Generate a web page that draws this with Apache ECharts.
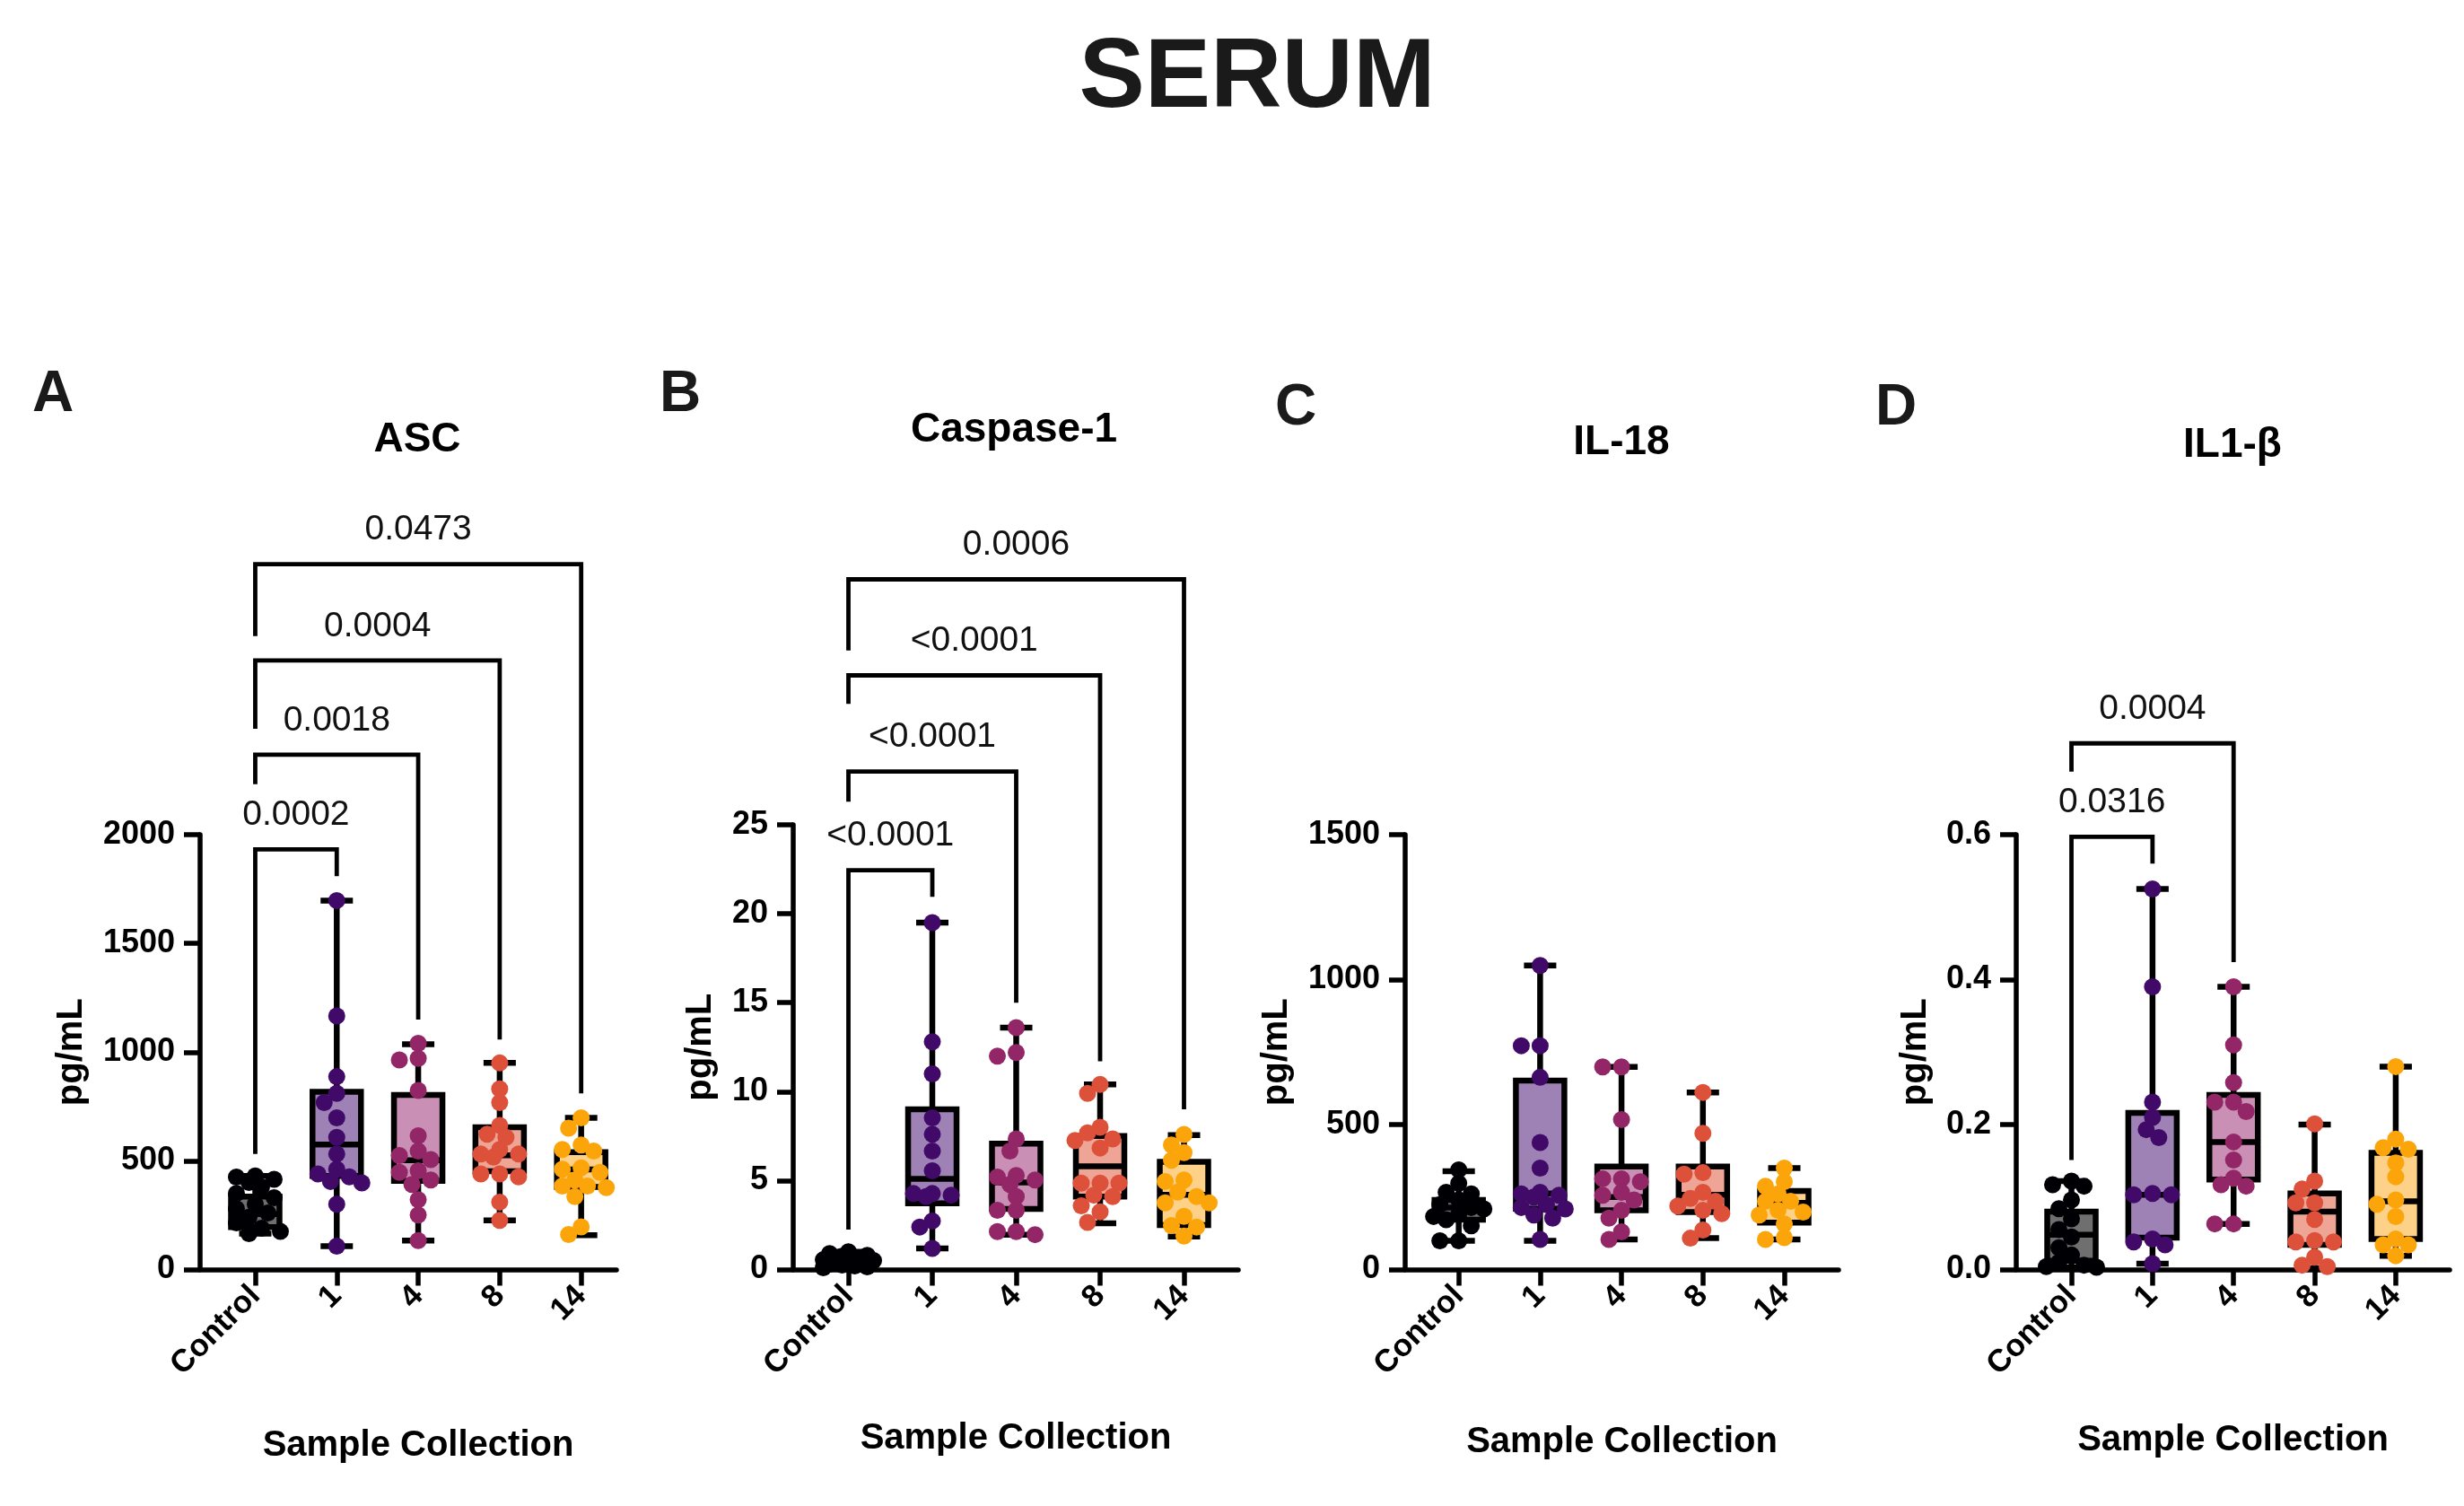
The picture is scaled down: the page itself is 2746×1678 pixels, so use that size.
<!DOCTYPE html>
<html>
<head>
<meta charset="utf-8">
<script src="https://cdn.jsdelivr.net/npm/echarts@6/dist/echarts.min.js"></script>
<style>
html,body{margin:0;padding:0;background:#fff;}
#chart{width:2746px;height:1678px;}
</style>
</head>
<body>
<div id="chart"></div>
<script>
// ---------------- DATA ----------------
const categories = ['Control', '1', '4', '8', '14'];

// ASC (pg/mL): box = [min, q1, median, q3, max]
const ascTicks = [0, 500, 1000, 1500, 2000];
const ascBox = [
  [165, 195, 255, 335, 430],
  [107, 430, 575, 817, 1697],
  [133, 408, 503, 803, 1036],
  [226, 452, 525, 654, 950],
  [158, 380, 460, 540, 698]
];
const ascPts = [
  [430, 425, 415, 400, 380, 350, 330, 300, 280, 260, 240, 215, 190, 175, 165],
  [1697, 1166, 887, 810, 768, 698, 608, 531, 461, 440, 426, 405, 398, 300, 107],
  [1040, 971, 964, 824, 615, 545, 524, 506, 454, 447, 412, 391, 321, 251, 133],
  [950, 831, 768, 663, 622, 608, 552, 531, 531, 517, 440, 440, 426, 310, 226],
  [698, 650, 573, 552, 545, 468, 461, 447, 412, 384, 384, 377, 335, 196, 161]
];
// significance: [label, target group, bracket level, left leg end, right leg end]
const ascSig = [
  ['0.0002', 1, 1932, 531, 1809],
  ['0.0018', 2, 2368, 2232, 1150],
  ['0.0004', 3, 2801, 2487, 1058],
  ['0.0473', 4, 3244, 2913, 810]
];

// Caspase-1
const casTicks = [0, 5, 10, 15, 20, 25];
const casBox = [
  [0.1, 0.2, 0.35, 0.6, 1.0],
  [1.19, 3.72, 5.09, 9.0, 19.5],
  [1.96, 3.41, 4.9, 7.08, 13.6],
  [2.6, 4.1, 5.8, 7.5, 10.4],
  [1.85, 2.5, 4.2, 6.06, 7.55]
];
const casPts = [
  [1.0, 0.9, 0.8, 0.75, 0.6, 0.55, 0.5, 0.45, 0.4, 0.35, 0.3, 0.25, 0.2, 0.15, 0.1],
  [19.5, 12.8, 11.0, 8.53, 7.6, 6.66, 5.55, 4.27, 4.27, 4.18, 4.1, 2.73, 2.39, 1.19],
  [13.6, 12.2, 12.0, 7.34, 6.66, 5.29, 5.2, 5.03, 4.78, 4.1, 3.33, 3.33, 2.13, 2.13, 1.96],
  [10.4, 9.9, 8.0, 7.68, 7.34, 7.25, 6.83, 4.86, 4.86, 4.86, 4.18, 4.1, 3.58, 3.24, 2.65],
  [7.59, 7.0, 6.57, 6.14, 5.03, 4.95, 4.35, 4.1, 3.75, 3.75, 2.99, 2.47, 2.39, 1.88]
];
const casSig = [
  ['<0.0001', 1, 22.45, 2.25, 20.95],
  ['<0.0001', 2, 28.0, 26.3, 15.0],
  ['<0.0001', 3, 33.4, 31.8, 11.7],
  ['0.0006', 4, 38.8, 34.8, 9.0]
];

// IL-18
const il18Ticks = [0, 500, 1000, 1500];
const il18Box = [
  [99, 172, 214, 240, 339],
  [99, 210, 262, 652, 1049],
  [104, 204, 250, 355, 699],
  [108, 198, 258, 355, 611],
  [104, 162, 230, 271, 350]
];
const il18Pts = [
  [344, 297, 266, 261, 240, 224, 214, 209, 190, 183, 172, 151, 99, 99],
  [1049, 772, 772, 663, 438, 350, 266, 261, 256, 250, 224, 214, 209, 188, 177, 104],
  [699, 699, 517, 313, 313, 303, 266, 256, 240, 204, 177, 130, 104],
  [611, 470, 334, 329, 266, 245, 235, 219, 204, 193, 136, 108],
  [350, 303, 287, 261, 235, 235, 204, 198, 188, 157, 110, 104]
];
const il18Sig = [];

// IL1-beta
const il1bTicks = [0, 0.2, 0.4, 0.6];
const il1bBox = [
  [0.003, 0.012, 0.048, 0.08, 0.122],
  [0.008, 0.044, 0.103, 0.216, 0.525],
  [0.063, 0.124, 0.176, 0.241, 0.39],
  [0.002, 0.034, 0.08, 0.105, 0.2],
  [0.019, 0.042, 0.094, 0.161, 0.28]
];
const il1bPts = [
  [0.122, 0.117, 0.115, 0.096, 0.084, 0.07, 0.055, 0.045, 0.03, 0.02, 0.01, 0.006, 0.004, 0.003],
  [0.525, 0.39, 0.231, 0.21, 0.193, 0.182, 0.105, 0.103, 0.103, 0.042, 0.038, 0.034, 0.008],
  [0.39, 0.31, 0.258, 0.231, 0.231, 0.218, 0.176, 0.151, 0.126, 0.117, 0.115, 0.063, 0.063],
  [0.201, 0.122, 0.111, 0.092, 0.092, 0.069, 0.04, 0.038, 0.038, 0.017, 0.006, 0.004],
  [0.28, 0.18, 0.168, 0.166, 0.147, 0.128, 0.096, 0.09, 0.073, 0.042, 0.034, 0.034, 0.019]
];
const il1bSig = [
  ['0.0316', 1, 0.597, 0.151, 0.56],
  ['0.0004', 2, 0.726, 0.687, 0.424]
];

// ---------------- STYLE / LAYOUT ----------------
const FONT = '"Liberation Sans", Arial, Helvetica, sans-serif';
const dotColors = ['#000004', '#420a68', '#932667', '#dd513a', '#fca50a'];
const boxFills  = ['#6f6f6f', '#9e82b6', '#c98fb4', '#efa596', '#fdd187'];

const panels = [
  {letter: 'A', title: 'ASC', box: ascBox, pts: ascPts, sig: ascSig, ticks: ascTicks, fmt: v => String(v),
   left: 223, width: 464, top: 930, height: 484.5, xmin: -0.677, xmax: 4.433, xNamePad: 22,
   letterPos: [59, 440], titlePos: [465, 490], yNameGap: 123, xNameGap: 176},
  {letter: 'B', title: 'Caspase-1', box: casBox, pts: casPts, sig: casSig, ticks: casTicks, fmt: v => String(v),
   left: 884, width: 496, top: 919, height: 495.5, xmin: -0.658, xmax: 4.647, xNamePad: 0,
   letterPos: [758, 440], titlePos: [1130, 479], yNameGap: 83, xNameGap: 168},
  {letter: 'C', title: 'IL-18', box: il18Box, pts: il18Pts, sig: il18Sig, ticks: il18Ticks, fmt: v => String(v),
   left: 1566, width: 483, top: 930, height: 484.5, xmin: -0.658, xmax: 4.667, xNamePad: 0,
   letterPos: [1444, 455], titlePos: [1807, 493], yNameGap: 123, xNameGap: 172},
  {letter: 'D', title: 'IL1-\u03b2', box: il1bBox, pts: il1bPts, sig: il1bSig, ticks: il1bTicks, fmt: v => v.toFixed(1),
   left: 2247, width: 483, top: 930, height: 484.5, xmin: -0.681, xmax: 4.665, xNamePad: 0,
   letterPos: [2113, 455], titlePos: [2488, 496], yNameGap: 92, xNameGap: 170}
];

const R = 9.5;          // dot radius (px)
const BOX_HW = 27;      // half box width (px)
const CAP_HW = 18;      // half whisker cap width (px)
const LW = 6.5;         // box / whisker stroke
const AXW = 5.5;        // axis stroke

function swarm(ys) {
  const cand = [0];
  for (let k = 1; k <= 4; k++) cand.push(-7 * k, 7 * k);
  const placed = [];
  ys.forEach(y => {
    let best = 0, bestScore = -1;
    for (const c of cand) {
      let md = Infinity;
      for (const p of placed) {
        const d = Math.hypot(p.x - c, p.y - y);
        if (d < md) md = d;
      }
      if (md >= 15) { best = c; bestScore = Infinity; break; }
      if (md > bestScore) { bestScore = md; best = c; }
    }
    placed.push({x: best, y});
  });
  return placed;
}

const grids = [], xAxes = [], yAxes = [], series = [], graphics = [];

graphics.push({type: 'text', x: 1401, y: 89, style: {text: 'SERUM', font: 'bold 110px ' + FONT, fill: '#1a1a1a', align: 'center', verticalAlign: 'middle'}});

panels.forEach((P, pi) => {
  grids.push({left: P.left, top: P.top, width: P.width, height: P.height, containLabel: false});
  xAxes.push({
    type: 'value', gridIndex: pi, min: P.xmin, max: P.xmax,
    name: 'Sample Collection', nameLocation: 'middle', nameGap: P.xNameGap,
    nameTextStyle: {fontFamily: FONT, fontWeight: 'bold', fontSize: 40, color: '#000', padding: [0, 0, 0, P.xNamePad]},
    axisLine: {show: true, onZero: false, lineStyle: {color: '#000', width: AXW}},
    axisTick: {show: true, customValues: [0, 1, 2, 3, 4], length: 18, lineStyle: {color: '#000', width: AXW}},
    axisLabel: {show: true, customValues: [0, 1, 2, 3, 4], formatter: v => categories[Math.round(v)],
      rotate: 45, margin: 24, fontFamily: FONT, fontWeight: 'bold', fontSize: 35, color: '#000'},
    splitLine: {show: false}
  });
  const ymax = P.ticks[P.ticks.length - 1];
  yAxes.push({
    type: 'value', gridIndex: pi, min: 0, max: ymax, interval: P.ticks[1] - P.ticks[0],
    name: 'pg/mL', nameLocation: 'middle', nameRotate: 90, nameGap: P.yNameGap,
    nameTextStyle: {fontFamily: FONT, fontWeight: 'bold', fontSize: 40, color: '#000'},
    axisLine: {show: true, onZero: false, lineStyle: {color: '#000', width: AXW}},
    axisTick: {show: true, length: 18, lineStyle: {color: '#000', width: AXW}},
    axisLabel: {show: true, margin: 28, formatter: P.fmt, fontFamily: FONT, fontWeight: 'bold', fontSize: 36, color: '#000'},
    splitLine: {show: false}
  });

  // boxes
  series.push({
    type: 'custom', xAxisIndex: pi, yAxisIndex: pi, clip: false, z: 3,
    encode: {x: 0, y: [1, 2, 3, 4, 5]},
    data: P.box.map((b, i) => [i].concat(b)),
    renderItem: (params, api) => {
      const i = api.value(0);
      const pMin = api.coord([i, api.value(1)]);
      const pQ1 = api.coord([i, api.value(2)]);
      const pMed = api.coord([i, api.value(3)]);
      const pQ3 = api.coord([i, api.value(4)]);
      const pMax = api.coord([i, api.value(5)]);
      const cx = pMed[0];
      const st = {stroke: '#000', lineWidth: LW};
      return {type: 'group', children: [
        {type: 'line', shape: {x1: cx, y1: pMax[1], x2: cx, y2: pMin[1]}, style: st},
        {type: 'line', shape: {x1: cx - CAP_HW, y1: pMax[1], x2: cx + CAP_HW, y2: pMax[1]}, style: st},
        {type: 'line', shape: {x1: cx - CAP_HW, y1: pMin[1], x2: cx + CAP_HW, y2: pMin[1]}, style: st},
        {type: 'rect', shape: {x: cx - BOX_HW, y: pQ3[1], width: 2 * BOX_HW, height: pQ1[1] - pQ3[1]},
          style: {fill: boxFills[i], stroke: '#000', lineWidth: LW}},
        {type: 'line', shape: {x1: cx - BOX_HW, y1: pMed[1], x2: cx + BOX_HW, y2: pMed[1]}, style: st}
      ]};
    }
  });

  // dots (beeswarm spread computed from the pixel positions given by the axis)
  series.push({
    type: 'custom', xAxisIndex: pi, yAxisIndex: pi, clip: false, z: 4,
    encode: {x: 0, y: 1},
    data: P.pts.map((arr, i) => [i, arr[0]]),
    renderItem: (params, api) => {
      const i = api.value(0);
      const vals = P.pts[i];
      const cx = api.coord([i, 0])[0];
      const ys = vals.map(v => api.coord([i, v])[1]);
      const placed = swarm(ys);
      return {type: 'group', children: placed.map(p => ({
        type: 'circle', shape: {cx: cx + p.x, cy: p.y, r: R}, style: {fill: dotColors[i]}
      }))};
    }
  });

  // significance brackets
  if (P.sig.length) {
    series.push({
      type: 'custom', xAxisIndex: pi, yAxisIndex: pi, clip: false, z: 5,
      encode: {x: 0, y: 1},
      data: P.sig.map(s => [0, s[2], s[1], s[3], s[4]]),
      renderItem: (params, api) => {
        const idx = params.dataIndex;
        const t = api.value(2);
        const top0 = api.coord([0, api.value(1)]);
        const top1 = api.coord([t, api.value(1)]);
        const l = api.coord([0, api.value(3)]);
        const r = api.coord([t, api.value(4)]);
        return {type: 'group', children: [
          {type: 'polyline', shape: {points: [[l[0], l[1]], [top0[0], top0[1]], [top1[0], top1[1]], [r[0], r[1]]]},
            style: {stroke: '#000', lineWidth: 4.8, fill: null}},
          {type: 'text', x: (top0[0] + top1[0]) / 2, y: top0[1] - 38,
            style: {text: P.sig[idx][0], font: '39px ' + FONT, fill: '#111', align: 'center', verticalAlign: 'middle'}}
        ]};
      }
    });
  }

  graphics.push({type: 'text', x: P.letterPos[0], y: P.letterPos[1],
    style: {text: P.letter, font: 'bold 64px ' + FONT, fill: '#1a1a1a', align: 'center', verticalAlign: 'middle'}});
  graphics.push({type: 'text', x: P.titlePos[0], y: P.titlePos[1],
    style: {text: P.title, font: 'bold 46px ' + FONT, fill: '#000', align: 'center', verticalAlign: 'middle'}});
});

const chart = echarts.init(document.getElementById('chart'), null, {renderer: 'canvas'});
chart.setOption({
  animation: false,
  backgroundColor: '#ffffff',
  grid: grids,
  xAxis: xAxes,
  yAxis: yAxes,
  series: series,
  graphic: graphics
});
</script>
</body>
</html>
